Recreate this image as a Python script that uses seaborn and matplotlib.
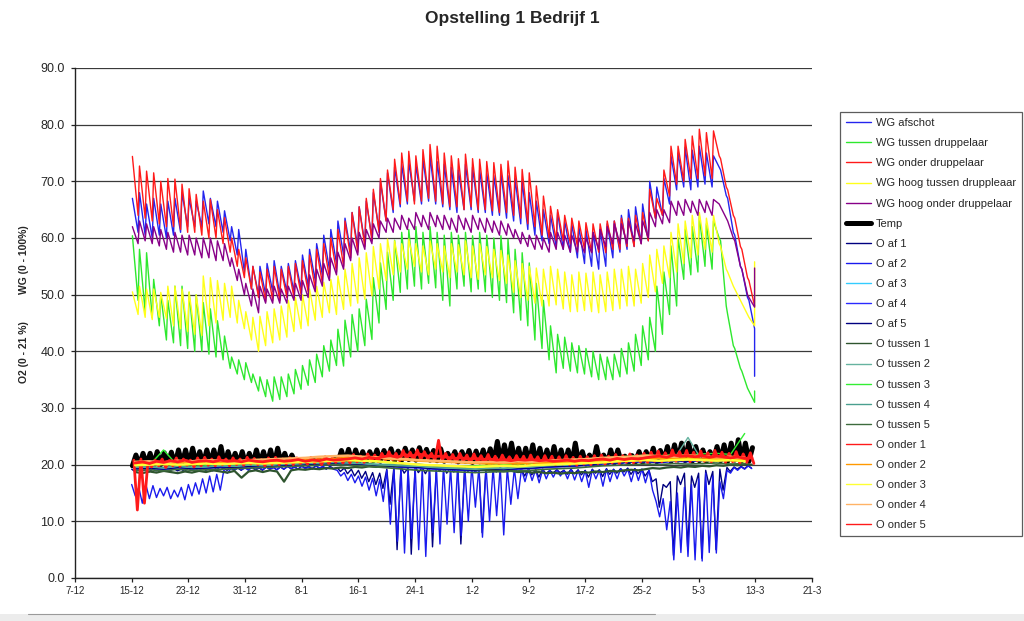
import numpy as np
import matplotlib
matplotlib.use("Agg")
import matplotlib.pyplot as plt
import seaborn as sns

# ---------------- data ----------------
TITLE = "Opstelling 1 Bedrijf 1"
X_LABELS = ["7-12", "15-12", "23-12", "31-12", "8-1", "16-1", "24-1", "1-2",
            "9-2", "17-2", "25-2", "5-3", "13-3", "21-3"]
X_STEP_DAYS = 8          # days between x tick labels
FIRST_DAY = 8            # 15-12, counted in days from 7-12
Y_TICKS = [0, 10, 20, 30, 40, 50, 60, 70, 80, 90]

# WG series: daily peak (hi) and daily low (lo), days 15-12 .. 12-3
WG_AFSCHOT_HI = [67.0, 68.0, 66.0, 67.0, 66.0, 66.5, 67.0, 68.0, 67.0, 66.5,
                 68.3, 67.0, 66.5, 64.8, 62.0, 61.5, 58.0, 55.0, 55.0, 55.5,
                 56.0, 55.0, 55.5, 56.0, 57.0, 58.0, 59.0, 60.5, 61.5, 63.0,
                 63.5, 64.5, 65.5, 66.5, 68.0, 70.0, 71.5, 72.5, 73.0, 73.5,
                 73.0, 74.0, 74.5, 73.5, 73.0, 72.5, 72.0, 73.0, 72.5, 72.0,
                 71.5, 71.0, 71.5, 71.0, 70.5, 70.0, 68.0, 66.5, 65.0, 64.0,
                 64.5, 63.0, 62.5, 62.0, 61.5, 61.0, 61.5, 62.5, 63.0, 64.0,
                 65.0, 65.5, 66.0, 70.0, 69.0, 70.5, 74.5, 75.0, 76.0, 75.5,
                 76.2, 75.0, 74.5, 72.0, 67.0, 60.5, 54.5, 49.0]
WG_AFSCHOT_LO = [61.0, 60.5, 60.0, 60.5, 60.0, 60.5, 61.0, 62.0, 62.0, 62.0,
                 62.5, 62.0, 61.0, 59.5, 57.0, 54.0, 51.0, 50.0, 50.0, 50.5,
                 50.0, 50.5, 50.5, 51.0, 51.5, 52.5, 53.5, 54.5, 55.5, 57.0,
                 57.5, 58.5, 59.0, 60.0, 61.5, 63.0, 64.5, 65.5, 66.0, 66.5,
                 66.0, 66.5, 66.0, 65.5, 65.0, 64.5, 65.0, 65.0, 64.5, 64.5,
                 64.0, 64.0, 63.5, 63.0, 62.5, 61.5, 60.5, 59.5, 59.0, 58.5,
                 58.0, 57.5, 56.5, 55.5, 55.0, 54.5, 55.0, 56.5, 57.5, 58.0,
                 58.5, 59.0, 59.5, 63.5, 64.0, 66.0, 68.5, 69.0, 68.5, 69.0,
                 69.5, 69.0, 72.5, 67.5, 61.0, 55.0, 49.5, 44.0]
WG_AFSCHOT_END = 35.6

WG_TUSSEN_HI = [60.4, 58.0, 57.4, 52.7, 50.0, 49.0, 51.5, 51.5, 50.4, 50.0,
                48.6, 47.5, 45.4, 42.7, 39.0, 38.5, 38.0, 36.0, 35.5, 35.0,
                35.5, 35.5, 36.0, 36.8, 37.5, 38.5, 39.5, 41.0, 42.0, 43.9,
                45.5, 46.5, 47.5, 49.2, 53.0, 55.6, 57.5, 59.6, 61.0, 61.5,
                62.0, 61.0, 62.0, 61.0, 60.5, 61.0, 60.5, 61.0, 60.4, 61.0,
                60.5, 60.0, 60.4, 59.8, 58.0, 57.4, 55.6, 52.0, 49.0, 44.5,
                43.0, 42.5, 41.5, 41.0, 40.5, 40.0, 39.5, 39.0, 39.5, 40.5,
                41.5, 43.0, 44.5, 46.0, 51.5, 54.0, 58.6, 60.0, 61.5, 62.0,
                63.9, 62.5, 63.0, 59.5, 46.5, 40.5, 36.5, 33.0]
WG_TUSSEN_LO = [49.0, 47.0, 46.0, 44.5, 42.0, 41.5, 41.0, 40.5, 40.0, 40.0,
                39.5, 39.0, 38.5, 37.0, 36.0, 35.0, 34.5, 33.0, 32.0, 31.2,
                31.5, 32.0, 32.5, 33.3, 34.0, 34.5, 35.5, 36.5, 37.5, 37.4,
                39.0, 40.0, 41.0, 42.1, 45.0, 47.4, 49.0, 50.4, 51.0, 51.5,
                51.0, 52.0, 51.2, 49.0, 48.0, 51.0, 51.5, 50.5, 51.0, 50.5,
                49.5, 49.0, 48.6, 46.8, 45.5, 44.5, 42.0, 40.5, 38.5, 36.2,
                37.0, 36.5, 36.2, 36.0, 35.5, 35.0, 35.0, 35.0, 35.5, 36.0,
                36.5, 37.5, 38.5, 40.0, 43.0, 46.5, 48.0, 52.7, 53.5, 54.0,
                55.0, 54.5, 60.0, 48.0, 41.0, 37.0, 33.5, 31.0]
WG_TUSSEN_END = 33.0

WG_ONDER_HI = [74.4, 72.7, 71.8, 71.5, 70.0, 70.5, 70.4, 69.5, 68.7, 67.7,
               66.5, 66.8, 65.0, 63.6, 60.0, 58.0, 56.5, 55.0, 54.0, 54.5,
               55.0, 54.5, 55.0, 55.5, 56.0, 57.0, 58.0, 59.0, 60.0, 61.5,
               63.0, 64.5, 65.5, 67.0, 68.6, 70.5, 72.0, 73.9, 75.0, 75.3,
               74.5, 75.6, 76.5, 76.2, 75.0, 74.5, 74.0, 74.8, 74.0, 73.9,
               73.5, 73.3, 73.0, 73.6, 72.5, 72.1, 71.5, 69.2, 67.4, 65.6,
               65.0, 64.0, 63.5, 63.0, 62.7, 62.5, 62.5, 63.0, 63.0, 63.5,
               63.5, 64.0, 64.5, 68.6, 67.0, 72.0, 76.2, 76.2, 77.4, 78.0,
               79.2, 78.6, 78.9, 74.0, 68.5, 63.5, 58.0, 52.5]
WG_ONDER_LO = [64.0, 63.5, 63.0, 62.5, 62.0, 62.0, 61.5, 61.0, 61.0, 60.5,
               60.0, 60.0, 59.0, 57.5, 55.0, 53.0, 51.0, 49.5, 48.8, 49.0,
               49.0, 49.5, 49.5, 50.0, 50.5, 51.0, 52.0, 53.0, 54.0, 55.0,
               56.5, 57.5, 58.5, 59.5, 61.0, 63.0, 65.0, 66.0, 66.5, 66.0,
               66.5, 67.0, 66.5, 66.0, 65.5, 65.5, 65.0, 65.5, 65.0, 65.0,
               64.8, 64.5, 64.5, 64.0, 63.5, 62.5, 62.0, 60.5, 60.0, 59.5,
               59.5, 59.0, 58.5, 58.0, 57.5, 57.5, 57.4, 58.0, 58.0, 58.5,
               58.5, 59.0, 59.5, 63.5, 64.0, 67.4, 69.5, 70.0, 70.5, 70.5,
               71.0, 70.5, 74.5, 69.0, 64.0, 58.5, 53.0, 48.0]

WG_HOOG_TUSSEN_HI = [50.5, 51.5, 51.0, 51.0, 50.4, 51.5, 51.5, 51.0, 50.5, 50.0,
                     53.3, 53.0, 52.5, 52.0, 51.5, 49.0, 47.0, 46.0, 46.2, 47.0,
                     47.5, 48.0, 49.0, 49.5, 50.0, 51.0, 51.5, 52.2, 52.7, 53.3,
                     54.5, 55.5, 56.5, 57.4, 58.5, 59.0, 59.8, 59.5, 59.0, 59.8,
                     59.0, 58.6, 59.5, 59.0, 58.6, 59.0, 58.8, 59.5, 58.6, 59.0,
                     58.5, 58.0, 57.8, 57.0, 56.0, 55.5, 55.0, 54.7, 54.5, 55.0,
                     54.5, 54.0, 53.5, 54.0, 53.8, 54.0, 53.5, 54.0, 54.5, 54.5,
                     55.0, 54.5, 55.5, 57.0, 58.0, 58.6, 61.0, 62.5, 63.0, 64.0,
                     64.5, 63.5, 64.0, 58.5, 54.0, 51.0, 48.5, 46.0]
WG_HOOG_TUSSEN_LO = [46.5, 46.0, 45.6, 46.0, 45.8, 44.5, 44.0, 43.5, 43.0, 42.8,
                     44.5, 45.0, 45.5, 46.0, 45.0, 44.0, 42.0, 40.0, 41.0, 41.5,
                     42.0, 42.5, 43.5, 44.0, 44.5, 45.5, 46.0, 46.8, 46.5, 47.4,
                     48.0, 48.5, 49.2, 49.8, 51.0, 52.5, 53.5, 54.0, 54.5, 55.0,
                     54.0, 53.5, 54.5, 54.0, 53.0, 54.0, 53.5, 53.0, 52.7, 53.5,
                     53.0, 52.5, 52.0, 50.4, 49.5, 49.0, 48.5, 48.0, 48.0, 48.2,
                     47.5, 47.0, 47.0, 47.2, 47.0, 46.8, 47.0, 47.2, 47.5, 48.0,
                     48.0, 48.5, 49.5, 50.5, 52.0, 53.0, 54.0, 55.5, 56.5, 57.0,
                     58.0, 57.5, 59.0, 54.5, 51.5, 49.0, 46.5, 44.5]
WG_HOOG_TUSSEN_END = 55.8

WG_HOOG_ONDER_HI = [62.0, 63.0, 62.5, 62.0, 61.5, 61.0, 61.0, 60.5, 60.5, 60.0,
                    60.0, 60.0, 59.5, 59.0, 56.5, 54.5, 52.0, 51.0, 51.5, 51.0,
                    51.5, 51.0, 51.5, 52.0, 52.5, 53.5, 54.5, 55.5, 56.5, 57.5,
                    59.0, 60.0, 61.0, 61.5, 62.5, 63.0, 63.5, 63.5, 64.0, 63.5,
                    64.5, 64.0, 64.5, 64.0, 64.0, 63.5, 64.0, 63.5, 64.0, 63.5,
                    63.5, 63.0, 63.0, 62.5, 61.5, 61.0, 60.5, 60.5, 60.0, 61.0,
                    61.0, 60.5, 60.5, 60.0, 60.0, 61.0, 61.5, 62.0, 62.5, 62.5,
                    63.0, 62.5, 63.0, 64.5, 65.0, 65.0, 66.5, 66.5, 66.8, 66.5,
                    66.8, 66.5, 66.8, 65.5, 63.0, 59.5, 54.5, 49.5]
WG_HOOG_ONDER_LO = [59.0, 59.5, 59.0, 58.6, 58.0, 57.5, 57.5, 57.0, 57.0, 56.5,
                    56.5, 56.0, 56.0, 55.0, 52.5, 50.0, 48.0, 46.8, 48.5, 48.5,
                    48.5, 48.5, 49.0, 49.0, 49.5, 50.5, 51.5, 52.5, 53.5, 54.5,
                    56.0, 57.0, 58.0, 59.0, 60.0, 61.0, 61.0, 61.5, 61.5, 61.5,
                    62.0, 61.5, 62.0, 61.5, 61.5, 61.0, 61.5, 61.0, 61.5, 61.0,
                    61.0, 60.5, 60.5, 60.0, 59.0, 58.5, 58.0, 58.0, 57.5, 58.0,
                    58.0, 57.5, 57.5, 57.4, 57.4, 58.0, 58.5, 59.0, 59.0, 59.0,
                    59.5, 59.0, 60.0, 62.0, 62.5, 62.7, 64.0, 64.0, 64.5, 64.0,
                    64.5, 64.0, 66.0, 63.5, 60.0, 55.0, 50.0, 47.8]
WG_HOOG_ONDER_END = 54.7

# Temperature: daily top and base
TEMP_HI = [21.7, 22.0, 22.0, 22.3, 22.1, 22.2, 22.6, 22.6, 22.9, 22.3,
           22.6, 22.6, 23.2, 22.3, 22.0, 22.3, 22.0, 22.6, 22.3, 22.6,
           22.9, 22.0, 21.7, 20.8, 20.6, 20.9, 20.7, 20.8, 21.0, 22.5,
           22.7, 22.6, 22.3, 22.3, 22.6, 22.5, 22.8, 22.4, 22.9, 22.6,
           23.0, 22.7, 22.5, 22.8, 22.0, 22.3, 22.3, 22.5, 22.4, 22.6,
           22.8, 24.1, 23.5, 23.8, 22.9, 22.9, 23.5, 22.9, 22.6, 23.2,
           22.6, 22.6, 23.8, 22.3, 21.7, 23.2, 21.7, 22.6, 22.6, 21.5,
           21.6, 22.3, 22.3, 22.9, 22.5, 23.2, 23.5, 23.8, 23.8, 23.2,
           22.6, 22.3, 23.2, 23.5, 23.8, 24.4, 23.8, 23.0]
TEMP_LO = [19.8, 19.9, 20.0, 19.9, 20.0, 20.1, 20.0, 20.1, 20.0, 20.2,
           20.1, 20.2, 20.1, 20.0, 20.2, 20.1, 20.0, 20.1, 20.2, 20.1,
           20.0, 20.2, 20.1, 20.3, 20.2, 20.4, 20.3, 20.4, 20.5, 20.4,
           20.5, 20.4, 20.6, 20.5, 20.7, 20.6, 20.8, 20.7, 20.8, 20.9,
           20.8, 20.9, 20.8, 20.7, 20.6, 20.7, 20.5, 20.6, 20.4, 20.5,
           20.4, 20.5, 20.3, 20.4, 20.3, 20.2, 20.3, 20.1, 20.2, 20.1,
           20.2, 20.0, 20.1, 20.2, 20.1, 20.2, 20.3, 20.2, 20.3, 20.4,
           20.4, 20.5, 20.4, 20.6, 20.5, 20.7, 20.6, 20.8, 20.7, 20.6,
           20.7, 20.6, 20.8, 20.7, 20.6, 20.8, 20.7, 20.6]

# O2 series with daily high / low
O_AF1_HI = [19.2, 19.3, 19.1, 19.3, 19.2, 19.4, 19.3, 19.2, 19.4, 19.3,
            19.4, 19.3, 19.5, 19.4, 19.5, 19.4, 19.6, 19.5, 19.4, 19.6,
            19.5, 19.6, 19.7, 19.6, 19.8, 19.7, 19.8, 19.6, 19.7, 19.5,
            19.4, 19.2, 19.0, 18.8, 18.6, 18.5, 19.2, 19.5, 19.6, 19.4,
            19.7, 19.5, 19.8, 19.6, 19.7, 19.5, 19.8, 19.6, 19.7, 19.5,
            19.6, 19.4, 19.5, 19.3, 19.4, 19.2, 19.3, 19.1, 19.2, 19.0,
            19.1, 19.0, 19.2, 19.1, 19.0, 19.2, 19.1, 19.3, 19.2, 19.3,
            19.4, 19.3, 19.2, 19.0, 17.5, 16.5, 17.0, 18.0, 18.5, 18.0,
            18.5, 19.0, 18.8, 19.2, 19.5, 19.6, 19.7, 19.8]
O_AF1_LO = [18.8, 18.9, 18.7, 18.9, 18.8, 19.0, 18.9, 18.8, 19.0, 18.9,
            19.0, 18.9, 19.1, 19.0, 19.1, 19.0, 19.2, 19.1, 19.0, 19.2,
            19.1, 19.2, 19.3, 19.2, 19.4, 19.3, 19.4, 19.2, 19.3, 18.8,
            18.4, 18.0, 17.6, 17.0, 16.5, 15.8, 13.0, 5.0, 18.5, 4.2,
            18.6, 18.4, 5.5, 18.8, 18.5, 18.7, 6.0, 18.8, 18.6, 8.0,
            18.9, 18.7, 18.9, 18.8, 18.7, 18.0, 18.2, 17.8, 18.4, 18.5,
            18.6, 18.3, 18.4, 18.2, 17.8, 18.5, 17.9, 18.3, 18.5, 18.7,
            18.3, 18.4, 18.0, 17.0, 12.5, 16.0, 4.0, 16.5, 5.5, 16.0,
            3.5, 16.5, 5.0, 15.5, 18.8, 19.2, 19.3, 19.4]
O_AF2_HI = [16.5, 16.0, 16.5, 16.3, 15.8, 16.0, 15.5, 16.0, 16.5, 16.8,
            17.5, 18.0, 18.3, 19.0, 19.3, 19.5, 19.4, 19.6, 19.5, 19.6,
            19.5, 19.6, 19.7, 19.6, 19.7, 19.6, 19.8, 19.7, 19.6, 19.0,
            18.6, 18.3, 18.0, 17.8, 17.6, 17.4, 19.0, 19.2, 19.5, 19.3,
            19.6, 19.4, 19.7, 19.5, 19.8, 19.6, 19.9, 19.7, 19.8, 19.6,
            19.7, 19.5, 19.6, 19.4, 19.3, 19.2, 19.3, 19.1, 19.2, 19.0,
            19.1, 19.0, 19.2, 19.0, 18.9, 19.1, 19.0, 19.2, 19.1, 19.3,
            19.2, 19.3, 19.2, 19.0, 13.5, 14.0, 13.5, 15.0, 16.0, 16.5,
            17.5, 18.5, 18.0, 17.0, 19.0, 19.5, 19.6, 19.8]
O_AF2_LO = [14.5, 13.2, 14.0, 14.2, 14.5, 14.0, 14.3, 13.8, 14.5, 14.8,
            15.0, 15.2, 15.5, 18.5, 19.0, 19.1, 19.0, 19.2, 19.1, 19.2,
            19.1, 19.2, 19.3, 19.2, 19.3, 19.2, 19.4, 19.3, 19.2, 18.0,
            17.2, 16.8, 16.2, 15.5, 14.5, 13.5, 9.5, 6.5, 4.4, 7.0,
            5.0, 3.8, 8.0, 6.0, 9.5, 8.0, 7.5, 10.0, 12.5, 7.2,
            10.0, 11.0, 7.6, 13.0, 14.0, 17.0, 17.2, 16.8, 17.5, 17.8,
            18.0, 17.5, 17.3, 17.0, 16.0, 17.5, 16.2, 17.0, 17.5, 18.0,
            17.0, 17.2, 16.8, 15.5, 10.8, 8.5, 3.2, 4.5, 3.8, 3.2,
            3.0, 4.5, 4.4, 14.0, 18.5, 19.0, 19.2, 19.3]
O_ONDER1_HI = [20.8, 21.0, 20.6, 20.8, 21.0, 20.7, 21.2, 21.0, 20.8, 21.2,
               21.3, 21.0, 21.4, 21.0, 21.2, 21.0, 21.3, 21.1, 20.9, 21.2,
               21.3, 21.0, 21.2, 21.2, 21.0, 21.3, 21.1, 21.4, 21.2, 21.5,
               21.4, 21.8, 21.5, 21.9, 21.7, 22.0, 22.3, 22.0, 22.5, 22.2,
               22.6, 22.3, 22.0, 24.3, 22.0, 21.8, 22.0, 21.7, 21.9, 21.6,
               21.8, 21.5, 21.7, 21.4, 21.6, 21.5, 21.7, 21.4, 21.6, 21.5,
               21.4, 21.6, 21.3, 21.5, 21.4, 21.6, 21.7, 21.5, 21.8, 21.6,
               21.9, 21.7, 22.0, 22.2, 22.4, 22.1, 22.6, 22.3, 22.5, 22.2,
               22.4, 22.1, 22.5, 22.2, 22.0, 22.3, 21.9, 22.1]
O_ONDER1_LO = [12.0, 13.2, 19.6, 19.8, 19.5, 19.8, 19.7, 19.9, 19.6, 19.8,
               19.9, 19.8, 20.0, 19.8, 20.0, 19.9, 20.1, 20.0, 19.8, 20.0,
               20.0, 20.1, 20.0, 20.2, 20.1, 20.3, 20.0, 20.2, 20.4, 20.3,
               20.3, 20.5, 20.4, 20.6, 20.5, 20.8, 20.9, 20.7, 21.0, 20.9,
               20.9, 21.0, 20.8, 20.7, 20.6, 20.4, 20.6, 20.3, 20.5, 20.4,
               20.3, 20.2, 20.4, 20.2, 20.3, 20.1, 20.3, 20.1, 20.2, 20.0,
               20.1, 20.0, 19.9, 20.1, 20.0, 20.2, 20.1, 20.3, 20.2, 20.4,
               20.3, 20.5, 20.4, 20.6, 20.5, 20.7, 20.6, 20.8, 20.5, 20.7,
               20.6, 20.5, 20.7, 20.4, 20.5, 20.3, 20.4, 20.2]

# O2 series, one value per day
O_TUSSEN1 = [18.7, 18.5, 18.8, 18.6, 18.9, 18.7, 18.5, 18.8, 18.6, 18.9,
             18.7, 19.0, 18.8, 18.6, 18.9, 17.7, 18.8, 19.0, 18.7, 19.0,
             18.8, 17.0, 19.0, 19.2, 19.1, 19.3, 19.2, 19.4, 19.3, 19.5,
             19.4, 19.6, 19.5, 19.7, 19.6, 19.8, 19.9, 19.8, 20.0, 19.9,
             20.0, 19.9, 19.8, 19.7, 19.6, 19.5, 19.4, 19.3, 19.2, 19.1,
             19.0, 18.9, 18.8, 18.9, 18.7, 18.8, 18.6, 18.7, 18.5, 18.6,
             18.4, 18.6, 18.5, 18.7, 18.6, 18.8, 18.7, 18.9, 18.8, 19.0,
             19.1, 19.0, 19.2, 19.4, 19.3, 19.5, 19.6, 19.5, 19.7, 19.6,
             19.8, 19.7, 19.9, 19.8, 20.0, 19.9, 20.1, 20.0]
O_ONDER5 = [20.3, 20.5, 20.2, 20.6, 20.4, 20.7, 20.5, 20.8, 20.4, 20.6,
            20.7, 20.5, 20.8, 20.6, 20.7, 20.5, 20.8, 20.6, 20.5, 20.7,
            20.8, 20.6, 20.7, 20.9, 20.6, 20.8, 20.7, 21.0, 20.8, 20.9,
            21.0, 21.2, 21.0, 21.3, 21.1, 21.4, 21.6, 21.3, 21.8, 21.5,
            21.9, 21.6, 21.4, 21.5, 21.3, 21.1, 21.2, 21.0, 21.1, 20.9,
            21.0, 20.8, 20.9, 20.7, 20.9, 20.8, 20.9, 20.7, 20.8, 20.6,
            20.7, 20.8, 20.6, 20.8, 20.7, 20.9, 21.0, 20.8, 21.1, 20.9,
            21.1, 21.0, 21.2, 21.4, 21.5, 21.3, 21.7, 21.5, 21.6, 21.4,
            21.6, 21.3, 21.5, 21.4, 21.2, 21.4, 21.1, 21.2]

# O2 series, one value every second day
O_AF3 = [19.4, 19.5, 19.3, 19.6, 19.4, 19.5, 19.7, 19.6, 19.8, 19.7,
         19.9, 20.0, 20.1, 20.2, 20.3, 20.2, 20.1, 19.9, 19.8, 19.7,
         19.6, 19.4, 19.3, 19.2, 19.1, 19.3, 19.2, 19.4, 19.5, 19.7,
         19.8, 19.9, 20.1, 20.3, 20.4, 20.6, 20.7, 20.5, 20.8, 20.7,
         20.9, 20.8, 21.0, 20.8]
O_AF4 = [19.2, 19.3, 19.1, 19.4, 19.2, 19.3, 19.5, 19.4, 19.6, 19.5,
         19.7, 19.8, 19.9, 20.0, 20.1, 20.0, 19.9, 19.7, 19.6, 19.5,
         19.4, 19.2, 19.1, 19.0, 18.9, 19.1, 19.0, 19.2, 19.3, 19.5,
         19.6, 19.7, 19.9, 20.1, 20.2, 20.4, 20.5, 20.3, 20.6, 20.5,
         20.7, 20.6, 20.8, 20.6]
O_AF5 = [19.3, 19.4, 19.2, 19.5, 19.3, 19.4, 19.6, 19.5, 19.7, 19.6,
         19.8, 19.9, 20.0, 20.1, 20.2, 20.1, 20.0, 19.8, 19.7, 19.6,
         19.5, 19.3, 19.2, 19.1, 19.0, 19.2, 19.1, 19.3, 19.4, 19.6,
         19.7, 19.8, 20.0, 20.2, 20.3, 20.5, 20.6, 20.4, 20.7, 20.6,
         20.8, 20.7, 20.9, 20.7]
O_TUSSEN2 = [19.5, 19.6, 19.4, 19.7, 19.5, 19.6, 19.8, 19.7, 19.9, 19.8,
             20.0, 20.1, 20.2, 20.3, 20.4, 20.3, 20.2, 20.0, 19.9, 19.8,
             19.7, 19.5, 19.4, 19.3, 19.2, 19.4, 19.3, 19.5, 19.6, 19.8,
             19.9, 20.0, 20.2, 20.4, 20.5, 20.7, 20.8, 20.6, 20.9, 24.8,
             20.7, 20.9, 21.0, 20.8]
O_TUSSEN3 = [19.8, 19.9, 22.6, 19.8, 20.0, 19.9, 20.1, 20.0, 20.2, 20.1,
             20.3, 20.4, 20.5, 20.6, 20.8, 20.7, 20.6, 20.5, 20.3, 20.2,
             20.0, 19.9, 19.8, 19.7, 19.8, 19.9, 20.0, 20.1, 20.2, 20.4,
             20.6, 20.8, 21.0, 21.2, 21.4, 21.5, 21.7, 21.6, 21.8, 21.7,
             21.9, 22.0, 21.8, 25.5]
O_TUSSEN4 = [19.6, 19.7, 19.5, 19.8, 19.6, 19.7, 19.9, 19.8, 20.0, 19.9,
             20.1, 20.2, 20.3, 20.4, 20.5, 20.4, 20.3, 20.1, 20.0, 19.9,
             19.8, 19.6, 19.5, 19.4, 19.3, 19.5, 19.4, 19.6, 19.7, 19.9,
             20.0, 20.1, 20.3, 20.5, 20.6, 20.8, 20.9, 20.7, 21.0, 20.9,
             21.1, 21.0, 21.2, 21.0]
O_TUSSEN5 = [19.0, 19.1, 18.9, 19.2, 19.0, 19.1, 19.2, 19.3, 19.4, 19.5,
             19.6, 19.7, 19.8, 19.9, 20.0, 19.9, 19.8, 19.6, 19.4, 19.2,
             19.0, 18.9, 18.8, 18.7, 18.6, 18.7, 18.8, 18.9, 19.0, 19.2,
             19.3, 19.4, 19.6, 19.8, 19.9, 20.0, 20.1, 20.0, 20.2, 20.1,
             20.2, 20.3, 20.1, 20.2]
O_ONDER2 = [20.2, 20.4, 20.3, 20.5, 20.4, 20.6, 20.5, 20.4, 20.6, 20.5,
            20.7, 20.6, 20.8, 20.9, 21.0, 21.2, 21.1, 21.3, 21.0, 20.9,
            20.7, 20.6, 20.5, 20.4, 20.3, 20.2, 20.3, 20.2, 20.4, 20.3,
            20.5, 20.4, 20.6, 20.8, 20.9, 21.0, 21.1, 21.2, 21.0, 21.1,
            20.9, 21.0, 20.8, 20.9]
O_ONDER3 = [19.9, 20.0, 20.1, 20.0, 20.1, 20.2, 20.1, 20.2, 20.3, 20.2,
            20.3, 20.4, 20.5, 20.6, 20.7, 20.8, 20.7, 20.6, 20.4, 20.2,
            20.0, 19.9, 19.8, 19.7, 19.6, 19.7, 19.8, 19.7, 19.9, 20.0,
            20.1, 20.2, 20.3, 20.4, 20.6, 20.7, 20.8, 20.7, 20.8, 20.9,
            20.8, 20.7, 20.8, 20.6]
O_ONDER4 = [20.5, 20.6, 20.4, 20.7, 20.6, 20.8, 20.7, 20.6, 20.8, 20.9,
            21.0, 21.1, 21.2, 21.4, 21.5, 21.6, 21.4, 21.3, 21.1, 21.0,
            20.8, 20.7, 20.6, 20.5, 20.4, 20.5, 20.4, 20.6, 20.5, 20.7,
            20.8, 20.9, 21.0, 21.2, 21.3, 21.4, 21.6, 21.5, 21.4, 21.6,
            21.5, 21.3, 21.4, 21.2]


# ---------------- helpers ----------------
def daily_hi_lo(hi, lo, end=None, t_hi=0.1, t_lo=0.9):
    days = FIRST_DAY + np.arange(len(hi))
    t = np.empty(2 * len(hi))
    v = np.empty(2 * len(hi))
    t[0::2], t[1::2] = days + t_hi, days + t_lo
    v[0::2], v[1::2] = hi, lo
    if end is not None:
        t = np.append(t, t[-1])
        v = np.append(v, end)
    return t, v


def per_step(vals, step):
    t = FIRST_DAY + step * np.arange(len(vals)) + 0.5
    return t, np.asarray(vals, dtype=float)


# ---------------- figure ----------------
sns.set_theme(style="white")
plt.rcParams["font.family"] = ["Liberation Sans", "DejaVu Sans"]

fig = plt.figure(figsize=(10.24, 6.21), dpi=100)
fig.patch.set_facecolor("white")
ax = fig.add_axes([75 / 1024, 1 - 578 / 621, (812 - 75) / 1024, (578 - 68) / 621])

series = [
    ("WG afschot", daily_hi_lo(WG_AFSCHOT_HI, WG_AFSCHOT_LO, WG_AFSCHOT_END), "#2424ee", 1.0),
    ("WG tussen druppelaar", daily_hi_lo(WG_TUSSEN_HI, WG_TUSSEN_LO, WG_TUSSEN_END), "#2ee82e", 1.0),
    ("WG onder druppelaar", daily_hi_lo(WG_ONDER_HI, WG_ONDER_LO), "#ff1a1a", 1.0),
    ("WG hoog tussen druppleaar", daily_hi_lo(WG_HOOG_TUSSEN_HI, WG_HOOG_TUSSEN_LO, WG_HOOG_TUSSEN_END), "#ffff1a", 1.0),
    ("WG hoog onder druppelaar", daily_hi_lo(WG_HOOG_ONDER_HI, WG_HOOG_ONDER_LO, WG_HOOG_ONDER_END), "#880088", 1.0),
    ("Temp", daily_hi_lo(TEMP_LO, TEMP_HI, t_hi=0.1, t_lo=0.6), "#000000", 3.6),
    ("O af 1", daily_hi_lo(O_AF1_HI, O_AF1_LO, t_hi=0.0, t_lo=0.45), "#000080", 1.0),
    ("O af 2", daily_hi_lo(O_AF2_HI, O_AF2_LO, t_hi=0.0, t_lo=0.5), "#1a1aee", 1.0),
    ("O af 3", per_step(O_AF3, 2), "#33ccff", 1.0),
    ("O af 4", per_step(O_AF4, 2), "#2a2aff", 1.0),
    ("O af 5", per_step(O_AF5, 2), "#000080", 1.0),
    ("O tussen 1", per_step(O_TUSSEN1, 1), "#2f552f", 1.6),
    ("O tussen 2", per_step(O_TUSSEN2, 2), "#66b3a0", 1.0),
    ("O tussen 3", per_step(O_TUSSEN3, 2), "#33ee33", 1.0),
    ("O tussen 4", per_step(O_TUSSEN4, 2), "#4a9f8f", 1.0),
    ("O tussen 5", per_step(O_TUSSEN5, 2), "#3d6b3d", 1.2),
    ("O onder 1", daily_hi_lo(O_ONDER1_HI, O_ONDER1_LO, t_hi=0.3, t_lo=0.8), "#ff1a1a", 2.0),
    ("O onder 2", per_step(O_ONDER2, 2), "#ff9900", 1.8),
    ("O onder 3", per_step(O_ONDER3, 2), "#ffff33", 1.8),
    ("O onder 4", per_step(O_ONDER4, 2), "#ffb366", 1.8),
    ("O onder 5", per_step(O_ONDER5, 1), "#ff1a1a", 2.0),
]

for label, (t, v), color, lw in series:
    sns.lineplot(x=t, y=v, ax=ax, color=color, linewidth=lw, label=label,
                 estimator=None, sort=False, legend=False)

# axes styling
n_ticks = len(X_LABELS)
ax.set_xlim(0, X_STEP_DAYS * (n_ticks - 1))
ax.set_xticks([X_STEP_DAYS * i for i in range(n_ticks)])
ax.set_xticklabels(X_LABELS, fontsize=7)
ax.set_ylim(Y_TICKS[0], Y_TICKS[-1])
ax.set_yticks(Y_TICKS)
ax.set_yticklabels([f"{v:.1f}" for v in Y_TICKS], fontsize=9)
ax.set_xlabel("")
ax.set_ylabel("")
ax.yaxis.grid(True, color="#3a3a3a", linewidth=0.9)
ax.xaxis.grid(False)
ax.set_axisbelow(True)
for side in ("top", "right"):
    ax.spines[side].set_visible(False)
for side in ("left", "bottom"):
    ax.spines[side].set_visible(True)
    ax.spines[side].set_color("#222222")
    ax.spines[side].set_linewidth(1.0)
ax.tick_params(axis="both", which="major", direction="out", length=3, width=0.9,
               color="#222222", left=True, bottom=True, pad=3)
ax.tick_params(axis="y", pad=4.5)
ax.set_facecolor("white")

# title and axis labels
fig.text(0.5, 1 - 18 / 621, TITLE, ha="center", va="center", fontsize=12.5,
         fontweight="bold")
fig.text(24 / 1024, 1 - 260 / 621, "WG (0 - 100%)", rotation=90, ha="center",
         va="center", fontsize=7.5, fontweight="bold")
fig.text(24 / 1024, 1 - 352 / 621, "O2 (0 - 21 %)", rotation=90, ha="center",
         va="center", fontsize=7.5, fontweight="bold")

# legend
handles, labels = ax.get_legend_handles_labels()
leg = fig.legend(handles, labels, loc="upper left",
                 bbox_to_anchor=(840 / 1024, 1 - 112 / 621),
                 fontsize=8, frameon=True, fancybox=False, shadow=False,
                 borderpad=0.55, labelspacing=0.91, handlelength=2.2,
                 handletextpad=0.45, borderaxespad=0)
leg.get_frame().set_edgecolor("#333333")
leg.get_frame().set_linewidth(0.9)
for line, text in zip(leg.get_lines(), leg.get_texts()):
    line.set_linewidth(3.6 if text.get_text() == "Temp" else 1.0)

# spreadsheet tab strip at the bottom edge of the screenshot
fig.patches.append(plt.Rectangle((0, 0), 1, 7 / 621, transform=fig.transFigure,
                                 facecolor="#ececec", edgecolor="none", zorder=0))
fig.lines.append(plt.Line2D([28 / 1024, 655 / 1024], [7 / 621, 7 / 621],
                            transform=fig.transFigure, color="#9a9a9a", lw=0.8))

fig.savefig("out.png", dpi=100, facecolor="white")
